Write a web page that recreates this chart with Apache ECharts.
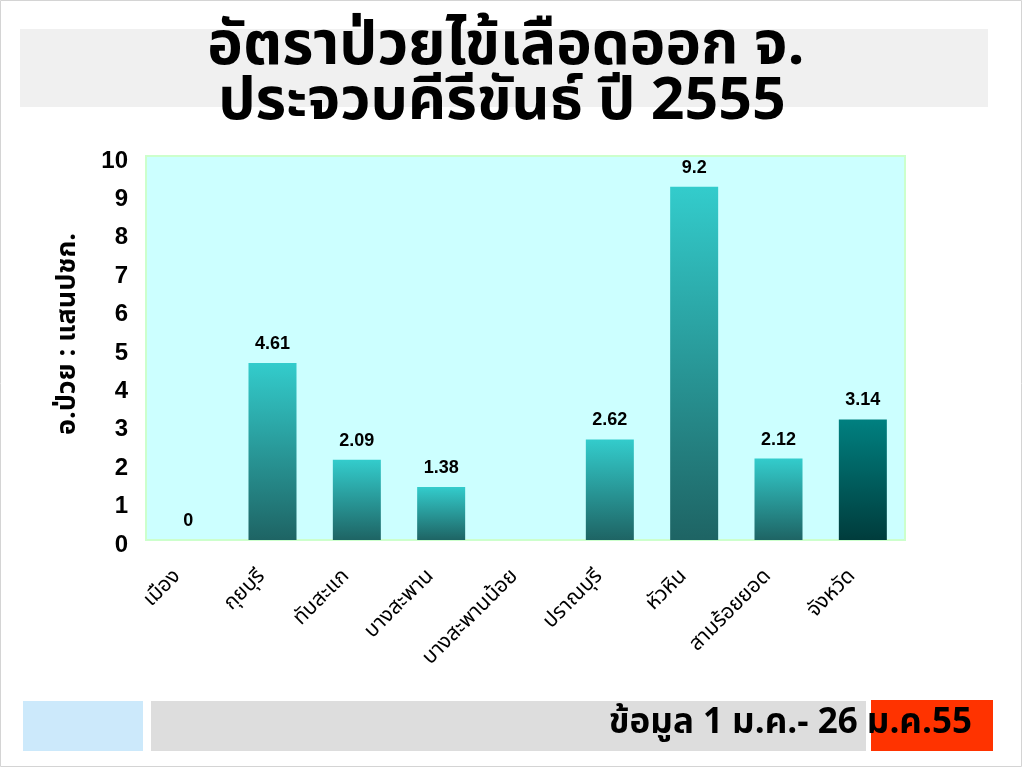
<!DOCTYPE html>
<html><head><meta charset="utf-8">
<script src="https://cdn.jsdelivr.net/npm/echarts@6/dist/echarts.min.js"></script>
<style>html,body{margin:0;padding:0;background:#fff}#c{width:1024px;height:768px}</style>
</head><body><div id="c"></div>
<script>
const categories = ['เมือง','กุยบุรี','ทับสะแก','บางสะพาน','บางสะพานน้อย','ปราณบุรี','หัวหิน','สามร้อยยอด','จังหวัด'];
const values = [0, 4.61, 2.09, 1.38, null, 2.62, 9.2, 2.12, 3.14];
const yTicks = [0,1,2,3,4,5,6,7,8,9,10];
const titleLines = ['อัตราป่วยไข้เลือดออก จ.', 'ประจวบคีรีขันธ์ ปี 2555'];
const yAxisName = 'อ.ป่วย : แสนปชก.';
const footerText = 'ข้อมูล 1 ม.ค.- 26 ม.ค.55';

const chart = echarts.init(document.getElementById('c'));
const g = echarts.graphic;
function barColor(i){
  if (i === categories.length - 1) {
    return new g.LinearGradient(0,0,0,1,[{offset:0,color:'#008080'},{offset:1,color:'#003c3c'}]);
  }
  return new g.LinearGradient(0,0,0,1,[{offset:0,color:'#33cccc'},{offset:1,color:'#1e6464'}]);
}
const thaiFont = '"Noto Sans Thai","Loma","Garuda","Tlwg Typist","Norasi","Sawasdee",sans-serif';
chart.setOption({
  animation:false,
  backgroundColor:'#fff',
  grid:{left:146,right:119,top:156,bottom:228,show:true,backgroundColor:'#ccffff',borderColor:'#ccffcc',borderWidth:2},
  xAxis:{type:'category',data:categories,
    axisLine:{show:false},axisTick:{show:false},
    axisLabel:{rotate:45,interval:0,fontSize:21,color:'#000',fontFamily:thaiFont,margin:24,padding:[0,14,0,0]}},
  yAxis:{type:'value',min:yTicks[0],max:yTicks[yTicks.length-1],interval:1,
    splitLine:{show:false},axisLine:{show:false},axisTick:{show:false},
    axisLabel:{margin:18,formatter:'{v|{value}}',
      rich:{v:{fontSize:24,fontWeight:'bold',color:'#000',fontFamily:'"Liberation Sans",Arial,sans-serif',padding:[10,0,0,0]}}},
    name:yAxisName,nameLocation:'middle',nameGap:63,
    nameTextStyle:{fontSize:27,fontWeight:'bold',color:'#000',fontFamily:thaiFont,padding:[0,0,0,28]}},
  series:[{type:'bar',barWidth:48,
    data:values.map((v,i)=>({value:v,itemStyle:{color:barColor(i)}})),
    label:{show:true,position:'top',distance:10,fontSize:18,fontWeight:'bold',color:'#000',fontFamily:'"Liberation Sans",Arial,sans-serif'}}],
  graphic:[
    {type:'rect',shape:{x:0.5,y:0.5,width:1021,height:766},style:{fill:'none',stroke:'#d4d4d4',lineWidth:1},z:-10},
    {type:'rect',shape:{x:20,y:29,width:968,height:78},style:{fill:'#f0f0f0'},z:-5},
    {type:'text',x:506,y:52,style:{text:titleLines[0],font:'bold 60px '+thaiFont,fill:'#000',align:'center',verticalAlign:'middle'}},
    {type:'text',x:502,y:107,style:{text:titleLines[1],font:'bold 59px '+thaiFont,fill:'#000',align:'center',verticalAlign:'middle'}},
    {type:'rect',shape:{x:23,y:701,width:120,height:50},style:{fill:'#cce9fb'}},
    {type:'rect',shape:{x:151,y:701,width:715,height:50},style:{fill:'#dddddd'}},
    {type:'rect',shape:{x:871,y:700,width:122,height:51},style:{fill:'#ff3300'}},
    {type:'text',x:972,y:726,style:{text:footerText,font:'bold 35px '+thaiFont,fill:'#000',align:'right',verticalAlign:'middle'}}
  ]
});
</script></body></html>
